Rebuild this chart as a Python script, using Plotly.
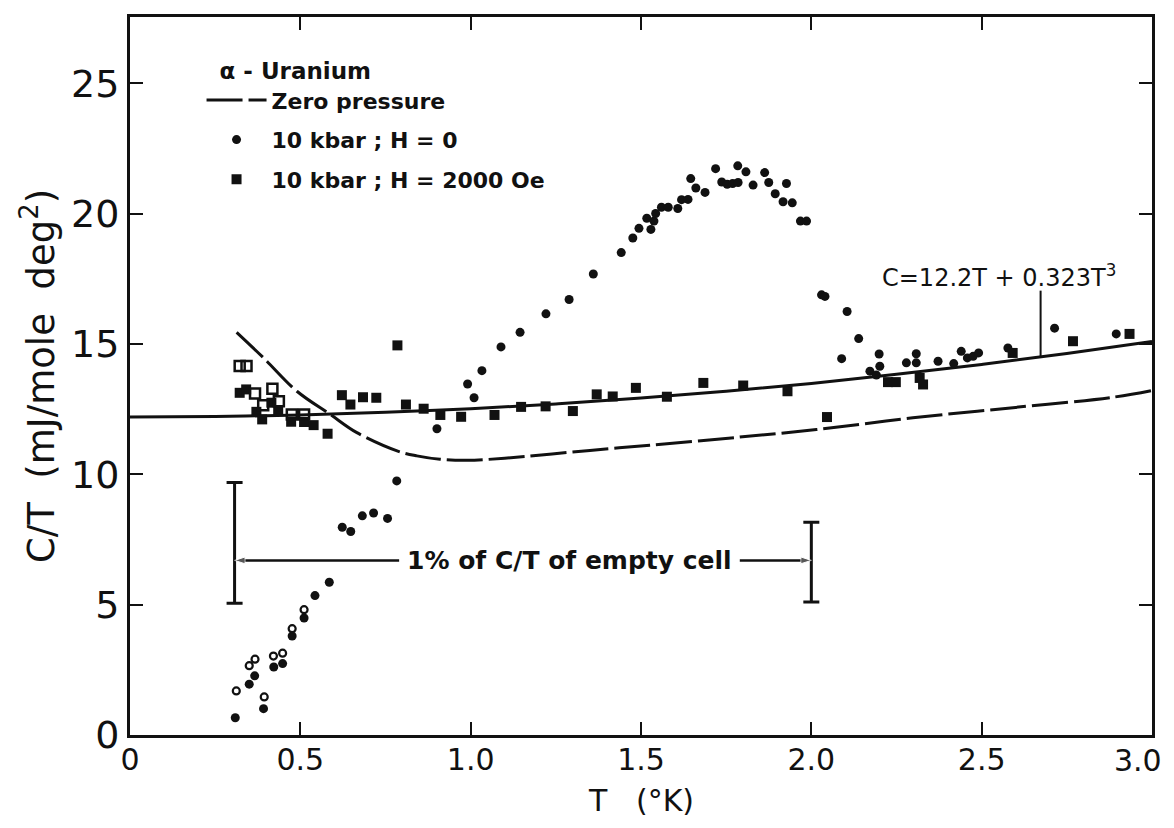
import plotly.graph_objects as go

# ---------------- data ----------------
# Zero-pressure curve (dashed)
zp_T = [0.313, 0.392, 0.490, 0.588, 0.666, 0.784, 0.842, 0.910, 0.989, 1.10, 1.35,
        1.526, 1.790, 2.015, 2.298, 2.592, 2.885, 3.0]
zp_C = [15.45, 14.47, 13.19, 12.30, 11.60, 10.90, 10.71, 10.58, 10.54, 10.62, 10.92,
        11.12, 11.43, 11.72, 12.17, 12.56, 12.96, 13.22]

# Fit line C = 12.2T + 0.323T^3 (solid)
fit_T = [0.0, 0.25, 0.5, 0.75, 1.0, 1.25, 1.5, 1.75, 2.0, 2.25, 2.5, 2.75, 3.0]
fit_C = [12.20, 12.22, 12.28, 12.38, 12.52, 12.70, 12.93, 13.19, 13.49, 13.84, 14.22, 14.64, 15.10]

# 10 kbar ; H = 0 (filled dots)
h0_T = [0.309, 0.392, 0.350, 0.366, 0.422, 0.448, 0.476, 0.511, 0.543, 0.585, 0.623, 0.648,
        0.682, 0.715, 0.756, 0.783, 0.901, 0.991, 1.010, 1.033, 1.089, 1.145, 1.221, 1.289,
        1.360, 1.442, 1.476, 1.494, 1.517, 1.529, 1.538, 1.543, 1.560, 1.580, 1.608, 1.619,
        1.638, 1.646, 1.661, 1.688, 1.719, 1.737, 1.753, 1.769, 1.785, 1.784, 1.808, 1.829,
        1.863, 1.875, 1.894, 1.917, 1.927, 1.944, 1.968, 1.986, 2.030, 2.040, 2.105, 2.139,
        2.089, 2.199, 2.172, 2.201, 2.191, 2.279, 2.308, 2.308, 2.372, 2.418, 2.440, 2.458,
        2.475, 2.491, 2.577, 2.714, 2.895]
h0_C = [0.66, 1.01, 1.95, 2.27, 2.61, 2.74, 3.80, 4.49, 5.35, 5.86, 7.97, 7.81,
        8.41, 8.52, 8.31, 9.75, 11.75, 13.47, 12.94, 13.98, 14.89, 15.45, 16.16, 16.71,
        17.69, 18.51, 19.07, 19.44, 19.83, 19.40, 19.72, 20.01, 20.25, 20.25, 20.20, 20.54,
        20.55, 21.35, 20.99, 20.82, 21.73, 21.22, 21.13, 21.16, 21.20, 21.84, 21.61, 21.10,
        21.58, 21.20, 20.77, 20.46, 21.16, 20.42, 19.72, 19.72, 16.89, 16.83, 16.25, 15.21,
        14.44, 14.62, 13.96, 14.15, 13.81, 14.28, 14.28, 14.63, 14.34, 14.25, 14.72, 14.47,
        14.53, 14.66, 14.85, 15.61, 15.39]

# 10 kbar ; H = 0 (open circles, low temperature)
h0o_T = [0.312, 0.394, 0.350, 0.367, 0.421, 0.448, 0.476, 0.511]
h0o_C = [1.69, 1.46, 2.66, 2.91, 3.03, 3.14, 4.08, 4.81]

# 10 kbar ; H = 2000 Oe (open squares)
h2o_T = [0.322, 0.342, 0.367, 0.418, 0.437, 0.391, 0.511, 0.475]
h2o_C = [14.16, 14.16, 13.10, 13.29, 12.81, 12.65, 12.30, 12.30]

# 10 kbar ; H = 2000 Oe (filled squares)
h2_T = [0.322, 0.341, 0.415, 0.371, 0.388, 0.435, 0.473, 0.511, 0.539, 0.580, 0.622, 0.647,
        0.684, 0.723, 0.785, 0.810, 0.862, 0.911, 0.972, 1.070, 1.148, 1.220, 1.300, 1.370,
        1.417, 1.485, 1.576, 1.683, 1.800, 1.930, 2.046, 2.225, 2.248, 2.318, 2.328, 2.591,
        2.768, 2.934]
h2_C = [13.13, 13.26, 12.75, 12.40, 12.11, 12.43, 12.02, 12.01, 11.89, 11.56, 13.04, 12.68,
        12.96, 12.94, 14.95, 12.68, 12.52, 12.28, 12.21, 12.28, 12.59, 12.61, 12.43, 13.07,
        12.99, 13.32, 12.98, 13.51, 13.41, 13.19, 12.20, 13.54, 13.54, 13.70, 13.45, 14.66,
        15.11, 15.39]

# "1% of C/T of empty cell" bars
bar_T = [0.307, 2.0]
bar_mid = [6.70, 6.70]
bar_lo = [5.06, 5.10]
bar_hi = [9.69, 8.16]
bar_text_T = [0.79, 1.79]   # where the horizontal line meets the text

x_ticks = [0, 0.5, 1.0, 1.5, 2.0, 2.5]
x_ticktext = ["0", "0.5", "1.0", "1.5", "2.0", "2.5"]
x_last_label = "3.0"
y_ticks = [0, 5, 10, 15, 20, 25]
y_ticktext = ["0", "5", "10", "15", "20", "25"]

FONT = "DejaVu Sans"
INK = "#111111"

fig = go.Figure()

fig.add_trace(go.Scatter(
    x=zp_T, y=zp_C, mode="lines", name="Zero pressure", legendgroup="a",
    line=dict(color=INK, width=3, dash="36px,6px", shape="spline", smoothing=1.0),
))
fig.add_trace(go.Scatter(
    x=fit_T, y=fit_C, mode="lines", name="C = 12.2T + 0.323T³", showlegend=False,
    line=dict(color=INK, width=3, shape="spline"),
))
fig.add_trace(go.Scatter(
    x=h0_T, y=h0_C, mode="markers", name="10 kbar ; H = 0", legendgroup="b",
    marker=dict(symbol="circle", size=9, color=INK),
))
fig.add_trace(go.Scatter(
    x=h0o_T, y=h0o_C, mode="markers", name="10 kbar ; H = 0", legendgroup="b", showlegend=False,
    marker=dict(symbol="circle-open", size=7, color=INK, line=dict(width=2.2, color=INK)),
))
fig.add_trace(go.Scatter(
    x=h2_T, y=h2_C, mode="markers", name="10 kbar ; H = 2000 Oe", legendgroup="c",
    marker=dict(symbol="square", size=10, color=INK),
))
fig.add_trace(go.Scatter(
    x=h2o_T, y=h2o_C, mode="markers", name="10 kbar ; H = 2000 Oe", legendgroup="c", showlegend=False,
    marker=dict(symbol="square-open", size=10, color=INK, line=dict(width=2.5, color=INK)),
))

# error bars for the "1% of C/T of empty cell" marks
fig.add_trace(go.Scatter(
    x=bar_T, y=bar_mid, mode="markers", showlegend=False, hoverinfo="skip",
    marker=dict(size=1, color=INK),
    error_y=dict(type="data", symmetric=False,
                 array=[h - m for h, m in zip(bar_hi, bar_mid)],
                 arrayminus=[m - l for l, m in zip(bar_lo, bar_mid)],
                 color=INK, thickness=3, width=8),
))

# horizontal arrows from the text to the bars
for t_from, t_to in ((bar_text_T[0], bar_T[0]), (bar_text_T[1], bar_T[1])):
    fig.add_trace(go.Scatter(
        x=[t_from, t_to], y=[bar_mid[0], bar_mid[0]], mode="lines+markers",
        showlegend=False, hoverinfo="skip",
        line=dict(color=INK, width=2.5),
        marker=dict(symbol=["circle", "arrow"], size=[0, 11], color=INK, angleref="previous"),
    ))

fig.add_annotation(x=(bar_text_T[0] + bar_text_T[1]) / 2, y=bar_mid[0],
                   text="1% of C/T of empty cell", showarrow=False,
                   font=dict(family=FONT, size=25, color=INK, weight="bold"))

fig.add_annotation(x=2.55, y=17.6, text="C=12.2T + 0.323T<sup>3</sup>", showarrow=False,
                   font=dict(family=FONT, size=24, color=INK))
fig.add_shape(type="line", x0=2.673, x1=2.673, y0=17.05, y1=14.5, xref="x", yref="y",
              line=dict(color=INK, width=2))

# last x tick label, kept inside the page like the original lettering
fig.add_annotation(x=1.0, y=0, xref="paper", yref="paper", yanchor="top", xanchor="right",
                   xshift=12, yshift=-6, text=x_last_label, showarrow=False,
                   font=dict(family=FONT, size=30, color=INK))

# x-axis title
fig.add_annotation(x=0.5, y=0, xref="paper", yref="paper", yanchor="bottom", xanchor="center",
                   yshift=-85, text="T   (°K)", showarrow=False,
                   font=dict(family=FONT, size=30, color=INK))

fig.update_xaxes(
    range=[0, 3.0], tickvals=x_ticks, ticktext=x_ticktext,
    ticks="inside", ticklen=13, tickwidth=2, tickcolor=INK,
    showline=True, linecolor=INK, linewidth=3, mirror="ticks",
    showgrid=False, zeroline=False, ticklabelstandoff=-4,
    tickfont=dict(family=FONT, size=30, color=INK),
)
fig.update_yaxes(
    range=[0, 27.55], tickvals=y_ticks, ticktext=y_ticktext,
    ticks="inside", ticklen=13, tickwidth=2, tickcolor=INK,
    showline=True, linecolor=INK, linewidth=3, mirror="ticks",
    showgrid=False, zeroline=False,
    tickfont=dict(family=FONT, size=38, color=INK),
    title=dict(text="C/T  (mJ/mole  deg<sup>2</sup>)", font=dict(family=FONT, size=37, color=INK),
               standoff=6),
)

# the page body adds an 8px margin, so the figure is sized to fit the window
fig.update_layout(
    width=1158, height=812,
    margin=dict(l=122, r=14, t=6, b=85),
    paper_bgcolor="white", plot_bgcolor="white",
    showlegend=True,
    legend=dict(
        x=0.07, y=0.955, xanchor="left", yanchor="top",
        bgcolor="rgba(0,0,0,0)", borderwidth=0,
        title=dict(text="  α - Uranium", font=dict(family=FONT, size=23, color=INK, weight="bold")),
        font=dict(family=FONT, size=22, color=INK, weight="bold"),
        itemwidth=60, tracegroupgap=8,
    ),
)

fig.write_html("out.html")
